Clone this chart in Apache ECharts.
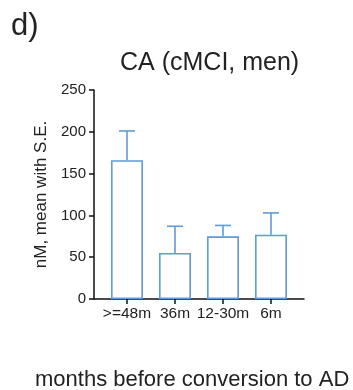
<!DOCTYPE html>
<html>
<head>
<meta charset="utf-8">
<script src="https://cdn.jsdelivr.net/npm/echarts@6/dist/echarts.min.js"></script>
<style>
  html, body { margin: 0; padding: 0; background: #fff; }
  #chart { width: 353px; height: 390px; }
</style>
</head>
<body>
<div id="chart"></div>
<script>
let chart = echarts.init(document.getElementById('chart'));

// 数据
const categories = ['>=48m', '36m', '12-30m', '6m'];
const means = [166, 55, 75, 77];
const upperErr = [201, 87, 88, 103];   // mean + S.E.
const yTicks = [0, 50, 100, 150, 200, 250];

const barColor = '#5e9bd8';
const font = 'Liberation Sans, Arial, sans-serif';

let errData = categories.map((c, i) => [i, means[i], upperErr[i]]);

let option = {
    animation: false,
    title: [
        {text: 'd)', left: 11, top: 11, padding: 0, textStyle: {fontFamily: font, fontSize: 31, fontWeight: 'normal', color: '#222'}},
        {text: 'CA (cMCI, men)', left: 120, top: 51, padding: 0, textStyle: {fontFamily: font, fontSize: 25, fontWeight: 'normal', color: '#222'}},
        {text: 'months before conversion to AD', left: 35, top: 369, padding: 0, textStyle: {fontFamily: font, fontSize: 22, fontWeight: 'normal', color: '#222'}}
    ],
    grid: [
        {left: 103, right: 58, top: 90, bottom: 91},   // bars
        {left: 94, right: 49, top: 90, bottom: 91}     // axis lines
    ],
    xAxis: [
        {
            gridIndex: 0,
            type: 'category',
            data: categories,
            axisLine: {show: false},
            axisTick: {show: true, alignWithLabel: true, length: 5, lineStyle: {color: '#111', width: 1.5}},
            axisLabel: {interval: 0, hideOverlap: false, margin: 7, fontFamily: font, fontSize: 15.5, color: '#222'},
            splitLine: {show: false}
        },
        {
            gridIndex: 1,
            type: 'value',
            min: 0, max: 1,
            axisLine: {show: true, lineStyle: {color: '#111', width: 1.5}},
            axisTick: {show: false},
            axisLabel: {show: false},
            splitLine: {show: false}
        }
    ],
    yAxis: [
        {
            gridIndex: 0,
            type: 'value',
            min: 0, max: 250,
            show: false
        },
        {
            gridIndex: 1,
            type: 'value',
            min: yTicks[0], max: yTicks[yTicks.length - 1], interval: 50,
            name: 'nM, mean with S.E.',
            nameLocation: 'middle',
            nameGap: 40,
            nameTextStyle: {fontFamily: font, fontSize: 17, color: '#222'},
            axisLine: {show: true, lineStyle: {color: '#111', width: 1.5}},
            axisTick: {show: true, length: 5, lineStyle: {color: '#111', width: 1.5}},
            axisLabel: {margin: 8, fontFamily: font, fontSize: 15, color: '#222'},
            splitLine: {show: false}
        }
    ],
    series: [
        {
            type: 'bar',
            xAxisIndex: 0,
            yAxisIndex: 0,
            data: means,
            barWidth: 32,
            itemStyle: {color: '#fff', borderColor: barColor, borderWidth: 1.6}
        },
        {
            type: 'custom',
            xAxisIndex: 0,
            yAxisIndex: 0,
            data: errData,
            z: 3,
            renderItem: function (params, api) {
                let base = api.coord([api.value(0), api.value(1)]);
                let top = api.coord([api.value(0), api.value(2)]);
                let half = 8;
                let style = {stroke: barColor, lineWidth: 1.6};
                return {
                    type: 'group',
                    children: [
                        {type: 'line', shape: {x1: base[0], y1: base[1], x2: top[0], y2: top[1]}, style: style},
                        {type: 'line', shape: {x1: top[0] - half, y1: top[1], x2: top[0] + half, y2: top[1]}, style: style}
                    ]
                };
            }
        }
    ]
};

chart.setOption(option);
</script>
</body>
</html>
